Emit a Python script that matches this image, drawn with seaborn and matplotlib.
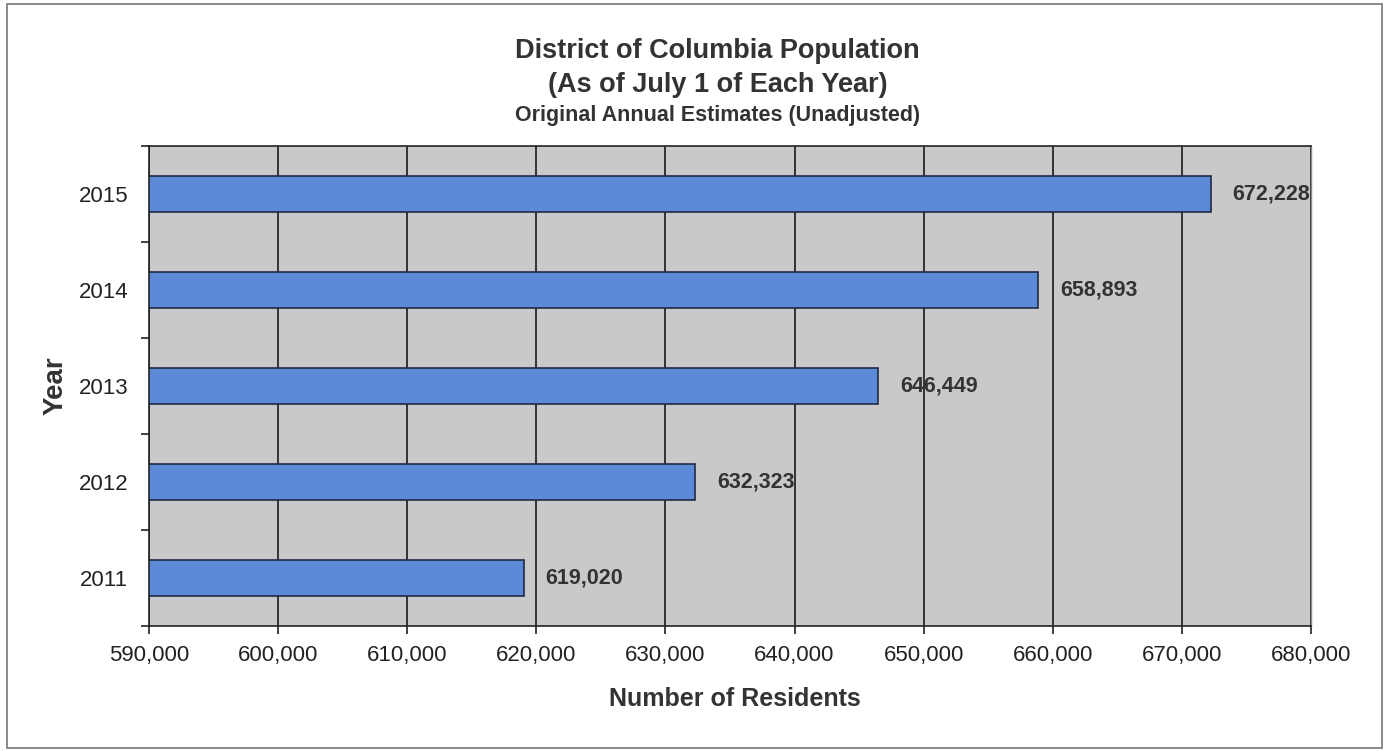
import matplotlib
matplotlib.use("Agg")
import matplotlib.pyplot as plt
import seaborn as sns
import pandas as pd
from matplotlib.patches import Rectangle
from matplotlib.ticker import FuncFormatter, FixedLocator

years = ["2015", "2014", "2013", "2012", "2011"]
population = [672228, 658893, 646449, 632323, 619020]
value_labels = ["672,228", "658,893", "646,449", "632,323", "619,020"]
xticks = [590000, 600000, 610000, 620000, 630000, 640000, 650000, 660000, 670000, 680000]

df = pd.DataFrame({"Year": years, "Population": population})

sns.set_theme(style="white")
plt.rcParams["font.family"] = ["Liberation Sans", "DejaVu Sans"]

fig = plt.figure(figsize=(13.86, 7.51), dpi=100)
ax = fig.add_axes([149/1386, 1-626/751, (1311-149)/1386, (626-146)/751])

sns.barplot(data=df, x="Population", y="Year", order=years, orient="h",
            color="#5A8AD8", edgecolor="#1F2A44", linewidth=1.2,
            width=0.375, saturation=1, ax=ax)

ax.set_facecolor("#C9C9C9")
ax.set_xlim(590000, 680000)
ax.set_xticks(xticks)
ax.xaxis.set_major_formatter(FuncFormatter(lambda v, p: f"{int(v):,}"))
ax.grid(axis="x", color="#1a1a1a", linewidth=1.2)
ax.set_axisbelow(True)
ax.tick_params(axis="x", direction="out", length=6, width=1.2, colors="#222222",
               labelsize=16, pad=8, bottom=True)
ax.tick_params(axis="y", which="major", length=0, labelsize=16, pad=15, labelcolor="#222222")
ax.yaxis.set_minor_locator(FixedLocator([-0.5, 0.5, 1.5, 2.5, 3.5, 4.5]))
ax.tick_params(axis="y", which="minor", direction="out", length=6, width=1.2, left=True, color="#222222")

for s in ["top", "left", "bottom"]:
    ax.spines[s].set_visible(True)
    ax.spines[s].set_color("#222222")
    ax.spines[s].set_linewidth(1.2)
ax.spines["right"].set_visible(True)
ax.spines["right"].set_color("#888888")
ax.spines["right"].set_linewidth(1.0)

ax.set_xlabel("Number of Residents", fontsize=18, fontweight="bold", color="#333333")
ax.xaxis.set_label_coords(0.5045, (626-687)/480)
ax.set_ylabel("Year", fontsize=20, fontweight="bold", color="#333333")
ax.yaxis.set_label_coords((69-149)/1162, 0.5)

for i, (v, lab) in enumerate(zip(population, value_labels)):
    ax.text(v + 1700, i, lab, va="center", ha="left", fontsize=15.5, fontweight="bold", color="#333333")

cx = 717.5/1386
fig.text(cx, 1-51/751, "District of Columbia Population", ha="center", va="center",
         fontsize=19.5, fontweight="bold", color="#333333")
fig.text(cx, 1-85/751, "(As of July 1 of Each Year)", ha="center", va="center",
         fontsize=19.5, fontweight="bold", color="#333333")
fig.text(cx, 1-116/751, "Original Annual Estimates (Unadjusted)", ha="center", va="center",
         fontsize=15.5, fontweight="bold", color="#333333")

fig.patches.append(Rectangle((7/1386, 3/751), 1375/1386, 744/751, transform=fig.transFigure,
                             fill=False, edgecolor="#777777", linewidth=1.2))

fig.savefig("out.png", dpi=100, facecolor="white")
